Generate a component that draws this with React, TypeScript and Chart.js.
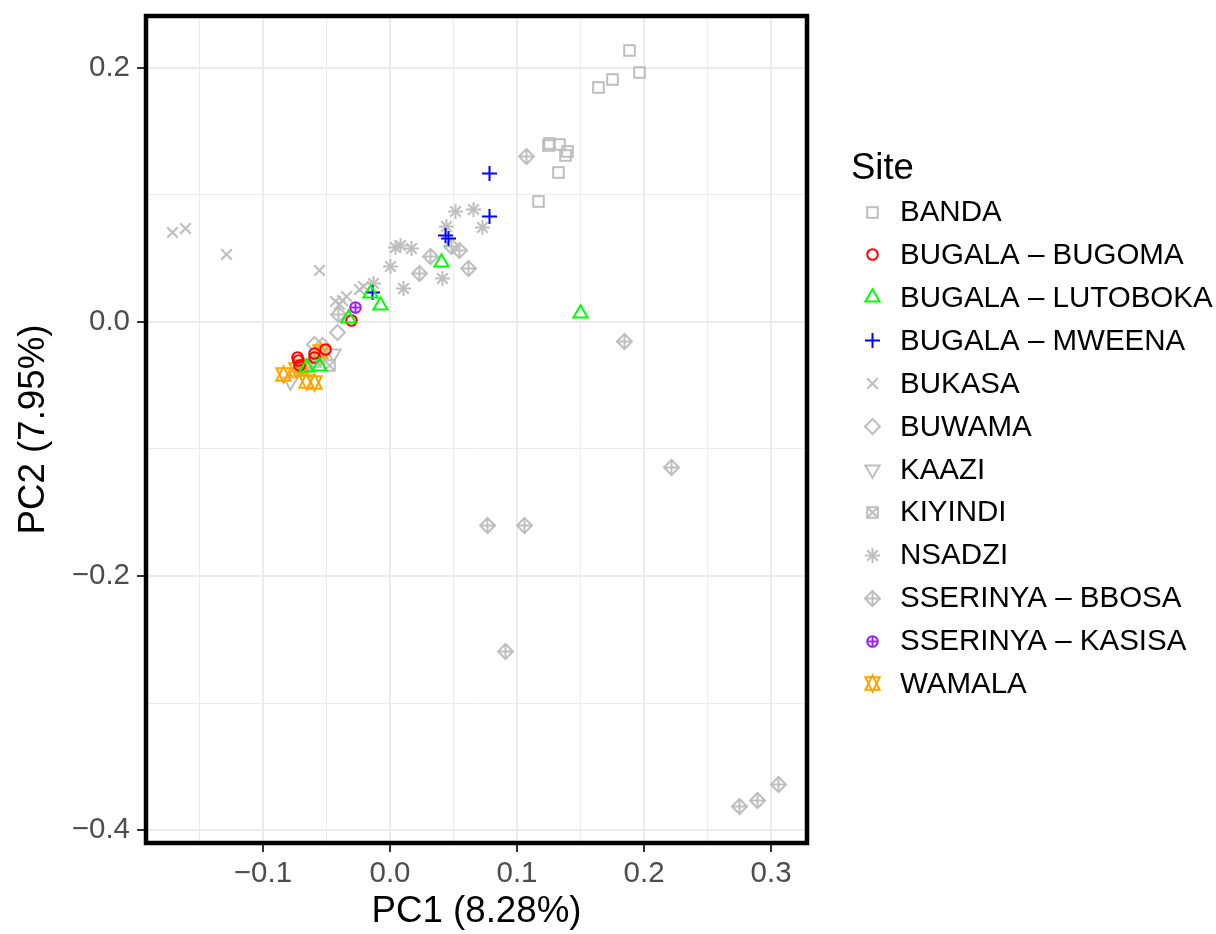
import React, { useEffect, useRef } from 'react';
import { Chart, registerables } from 'chart.js';

Chart.register(...registerables);

// ---------- data ----------
const siteNames = [
  'BANDA', 'BUGALA – BUGOMA', 'BUGALA – LUTOBOKA', 'BUGALA – MWEENA', 'BUKASA', 'BUWAMA',
  'KAAZI', 'KIYINDI', 'NSADZI', 'SSERINYA – BBOSA', 'SSERINYA – KASISA', 'WAMALA',
];
const siteColors = [
  '#BEBEBE', '#FF0000', '#00FF00', '#0000FF', '#BEBEBE', '#BEBEBE',
  '#BEBEBE', '#BEBEBE', '#BEBEBE', '#BEBEBE', '#A020F0', '#FFA500',
];
const siteShapes = [
  'square', 'circle', 'triangle', 'plus', 'cross', 'diamond',
  'triangleDown', 'squareCross', 'asterisk', 'diamondPlus', 'circlePlus', 'star',
];
const siteDrawOrder = [3, 1, 0, 0, 3, 3, 3, 3, 3, 3, 0, 2];

const bandaX = [0.1887, 0.1963, 0.175, 0.1638, 0.1246, 0.1252, 0.1331, 0.1399, 0.1378, 0.1325, 0.1171];
const bandaY = [0.2136, 0.1963, 0.1906, 0.1848, 0.1386, 0.1406, 0.1394, 0.1341, 0.1307, 0.1176, 0.095];

const bugomaX = [-0.0303, -0.0508, -0.0594, -0.0598, -0.0728, -0.072, -0.0709];
const bugomaY = [0.0008, -0.0215, -0.0248, -0.0283, -0.0276, -0.0307, -0.0339];

const lutobokaX = [0.0402, -0.015, -0.0071, -0.0328, -0.0654, -0.0557, 0.1498];
const lutobokaY = [0.0467, 0.0228, 0.0131, 0.0028, -0.0362, -0.0354, 0.0063];

const mweenaX = [0.0782, 0.0787, 0.0437, 0.0461, -0.0139];
const mweenaY = [0.1171, 0.0827, 0.0677, 0.0657, 0.0231];

const bukasaX = [-0.1711, -0.1612, -0.1289, -0.0557, -0.0433, -0.0374, -0.0346, -0.0244, -0.0209, -0.0394];
const bukasaY = [0.0706, 0.0738, 0.0528, 0.0404, 0.0161, 0.0173, 0.0201, 0.0252, 0.0276, 0.0134];

const buwamaX = [-0.0415, -0.0591, -0.0528];
const buwamaY = [-0.0081, -0.0181, -0.0189];

const kaaziX = [-0.0445, -0.0787, -0.0551];
const kaaziY = [-0.0248, -0.0472, -0.0268];

const kiyindiX = [-0.0669, -0.0583, -0.048];
const kiyindiY = [-0.0331, -0.0315, -0.0346];

const nsadziX = [0.0512, 0.0656, 0.0728, 0.0446, 0.0047, 0.0079, 0.0171, 0.0, 0.011, 0.0413, -0.0126];
const nsadziY = [0.0869, 0.0882, 0.074, 0.0748, 0.0587, 0.0602, 0.0575, 0.0435, 0.0265, 0.0344, 0.0303];

const bbosaX = [0.1071, 0.0315, 0.0488, 0.0547, 0.062, 0.0232, -0.0407, 0.1845, 0.2215, 0.0764, 0.1057, 0.0908, 0.2748, 0.2895, 0.3057];
const bbosaY = [0.1302, 0.0517, 0.0598, 0.0559, 0.0419, 0.038, 0.0055, -0.0155, -0.1147, -0.1604, -0.1606, -0.2593, -0.3817, -0.3764, -0.364];

const kasisaX = [-0.027];
const kasisaY = [0.0113];

const wamalaX = [-0.084, -0.0661, -0.0598, -0.0693, -0.0551, -0.074];
const wamalaY = [-0.0413, -0.0469, -0.048, -0.0354, -0.0236, -0.0378];

const siteX = [bandaX, bugomaX, lutobokaX, mweenaX, bukasaX, buwamaX, kaaziX, kiyindiX, nsadziX, bbosaX, kasisaX, wamalaX];
const siteY = [bandaY, bugomaY, lutobokaY, mweenaY, bukasaY, buwamaY, kaaziY, kiyindiY, nsadziY, bbosaY, kasisaY, wamalaY];

const xMajorTicks = [-0.1, 0.0, 0.1, 0.2, 0.3];
const xTickLabels = ['−0.1', '0.0', '0.1', '0.2', '0.3'];
const xMinorTicks = [-0.15, -0.05, 0.05, 0.15, 0.25];
const yMajorTicks = [-0.4, -0.2, 0.0, 0.2];
const yTickLabels = ['−0.4', '−0.2', '0.0', '0.2'];
const yMinorTicks = [-0.3, -0.1, 0.1];

const xTitle = 'PC1 (8.28%)';
const yTitle = 'PC2 (7.95%)';
const legendTitle = 'Site';

// ---------- styling ----------
const FONT = '"Liberation Sans", Arial, Helvetica, sans-serif';
const SYM_R = 5.3;
const SYM_LW = 2;

function makeSymbol(shape: string, color: string, r: number, lw: number): HTMLCanvasElement {
  const size = Math.ceil((r * 1.6 + lw) * 2) + 4;
  const c = document.createElement('canvas');
  c.width = size;
  c.height = size;
  const g = c.getContext('2d') as CanvasRenderingContext2D;
  g.translate(size / 2, size / 2);
  g.strokeStyle = color;
  g.lineWidth = lw;
  g.lineJoin = 'miter';
  const line = (x1: number, y1: number, x2: number, y2: number) => {
    g.beginPath(); g.moveTo(x1, y1); g.lineTo(x2, y2); g.stroke();
  };
  const poly = (pts: number[][]) => {
    g.beginPath();
    pts.forEach((p, i) => (i === 0 ? g.moveTo(p[0], p[1]) : g.lineTo(p[0], p[1])));
    g.closePath();
    g.stroke();
  };
  const TRC0 = 1.5551203, TRC1 = 1.34677368, TRC2 = 0.77756015;
  const s2 = Math.SQRT2 * r;
  switch (shape) {
    case 'square': g.strokeRect(-r, -r, 2 * r, 2 * r); break;
    case 'circle': g.beginPath(); g.arc(0, 0, r, 0, Math.PI * 2); g.stroke(); break;
    case 'triangle': poly([[0, -TRC0 * r], [TRC1 * r, TRC2 * r], [-TRC1 * r, TRC2 * r]]); break;
    case 'triangleDown': poly([[0, TRC0 * r], [TRC1 * r, -TRC2 * r], [-TRC1 * r, -TRC2 * r]]); break;
    case 'plus': line(-s2, 0, s2, 0); line(0, -s2, 0, s2); break;
    case 'cross': line(-r, -r, r, r); line(-r, r, r, -r); break;
    case 'diamond': poly([[-s2, 0], [0, -s2], [s2, 0], [0, s2]]); break;
    case 'squareCross':
      g.strokeRect(-r, -r, 2 * r, 2 * r); line(-r, -r, r, r); line(-r, r, r, -r); break;
    case 'asterisk':
      line(-r, -r, r, r); line(-r, r, r, -r); line(-s2, 0, s2, 0); line(0, -s2, 0, s2); break;
    case 'diamondPlus':
      poly([[-s2, 0], [0, -s2], [s2, 0], [0, s2]]); line(-s2, 0, s2, 0); line(0, -s2, 0, s2); break;
    case 'circlePlus':
      g.beginPath(); g.arc(0, 0, r, 0, Math.PI * 2); g.stroke(); line(-r, 0, r, 0); line(0, -r, 0, r); break;
    case 'star': {
      const rr = TRC0 * r;
      const yc = 0.5 * (TRC2 * r + rr);
      const xc = TRC1 * r;
      poly([[0, rr], [xc, -yc], [-xc, -yc]]);
      poly([[0, -rr], [xc, yc], [-xc, yc]]);
      break;
    }
  }
  return c;
}

const majorX = (v: number) => xMajorTicks.some((t) => Math.abs(t - v) < 1e-9);
const majorY = (v: number) => yMajorTicks.some((t) => Math.abs(t - v) < 1e-9);

export default function App() {
  const ref = useRef<HTMLCanvasElement | null>(null);

  useEffect(() => {
    document.body.style.margin = '0';
    const canvas = ref.current;
    if (!canvas) return;
    const symbols = siteShapes.map((s, i) => makeSymbol(s, siteColors[i], SYM_R, SYM_LW));

    const datasets = siteNames.map((name, i) => ({
      label: name,
      data: siteX[i].map((x, j) => ({ x, y: siteY[i][j] })),
      pointStyle: symbols[i] as any,
      pointRadius: SYM_R,
      borderColor: siteColors[i],
      backgroundColor: siteColors[i],
      order: siteDrawOrder[i],
    }));

    const crispSymbols = {
      id: 'crispSymbols',
      beforeDatasetsDraw(chart: any) {
        chart.ctx.imageSmoothingEnabled = false;
      },
      afterDatasetsDraw(chart: any) {
        chart.ctx.imageSmoothingEnabled = true;
      },
    };

    const panelBorder = {
      id: 'panelBorder',
      afterDatasetsDraw(chart: any) {
        const { ctx, chartArea: a } = chart;
        ctx.save();
        ctx.strokeStyle = '#000000';
        ctx.lineWidth = 4.5;
        ctx.strokeRect(a.left, a.top, a.right - a.left, a.bottom - a.top);
        ctx.restore();
      },
    };

    const siteLegend = {
      id: 'siteLegend',
      afterDraw(chart: any) {
        const { ctx } = chart;
        ctx.save();
        ctx.fillStyle = '#000000';
        ctx.textBaseline = 'middle';
        ctx.textAlign = 'left';
        ctx.font = `36.5px ${FONT}`;
        ctx.fillText(legendTitle, 851, 169);
        ctx.font = `29.5px ${FONT}`;
        siteNames.forEach((name, i) => {
          const y = 212 + i * 42.9;
          const sym = symbols[i];
          ctx.drawImage(sym, Math.round(872 - sym.width / 2), Math.round(y - sym.height / 2));
          ctx.fillText(name, 900, y + 1);
        });
        ctx.restore();
      },
    };

    const chart = new Chart(canvas, {
      type: 'scatter',
      data: { datasets: datasets as any },
      plugins: [crispSymbols, panelBorder, siteLegend],
      options: {
        animation: false,
        responsive: true,
        maintainAspectRatio: false,
        layout: { padding: { left: 0, top: 16, right: 409, bottom: 0 } },
        plugins: { legend: { display: false }, tooltip: { enabled: false } },
        scales: {
          x: {
            type: 'linear',
            min: -0.1921,
            max: 0.3283,
            afterBuildTicks: (s: any) => {
              s.ticks = [...xMajorTicks, ...xMinorTicks].sort((a, b) => a - b).map((v) => ({ value: v }));
            },
            afterFit: (s: any) => {
              s.height = 91;
              s.paddingLeft = 0;
              s.paddingRight = 0;
            },
            border: { display: false },
            grid: {
              color: '#EBEBEB',
              lineWidth: (c: any) => (c.tick && majorX(c.tick.value) ? 2 : 1),
              drawTicks: true,
              tickLength: 9,
              tickWidth: 2,
              tickColor: (c: any) => (c.tick && majorX(c.tick.value) ? '#333333' : 'rgba(0,0,0,0)'),
            },
            ticks: {
              autoSkip: false,
              maxRotation: 0,
              padding: 4,
              color: '#4D4D4D',
              font: { size: 29.5, family: FONT },
              callback: (v: any) => {
                const k = xMajorTicks.findIndex((t) => Math.abs(t - v) < 1e-9);
                return k >= 0 ? xTickLabels[k] : '';
              },
            },
            title: {
              display: true,
              text: xTitle,
              color: '#000000',
              font: { size: 36.7, family: FONT },
              padding: { top: 0, bottom: 0 },
            },
          },
          y: {
            type: 'linear',
            min: -0.4102,
            max: 0.2409,
            afterBuildTicks: (s: any) => {
              s.ticks = [...yMajorTicks, ...yMinorTicks].sort((a, b) => a - b).map((v) => ({ value: v }));
            },
            afterFit: (s: any) => {
              s.width = 146;
              s.paddingTop = 0;
              s.paddingBottom = 0;
            },
            border: { display: false },
            grid: {
              color: '#EBEBEB',
              lineWidth: (c: any) => (c.tick && majorY(c.tick.value) ? 2 : 1),
              drawTicks: true,
              tickLength: 9,
              tickWidth: 2,
              tickColor: (c: any) => (c.tick && majorY(c.tick.value) ? '#333333' : 'rgba(0,0,0,0)'),
            },
            ticks: {
              autoSkip: false,
              padding: 7,
              color: '#4D4D4D',
              font: { size: 29.5, family: FONT },
              callback: (v: any) => {
                const k = yMajorTicks.findIndex((t) => Math.abs(t - v) < 1e-9);
                return k >= 0 ? yTickLabels[k] : '';
              },
            },
            title: {
              display: true,
              text: yTitle,
              color: '#000000',
              font: { size: 36.7, family: FONT },
              padding: { top: 12, bottom: 0 },
            },
          },
        },
      },
    });
    return () => chart.destroy();
  }, []);

  return (
    <div style={{ position: 'relative', width: '1216px', height: '934px' }}>
      <canvas ref={ref} />
    </div>
  );
}
